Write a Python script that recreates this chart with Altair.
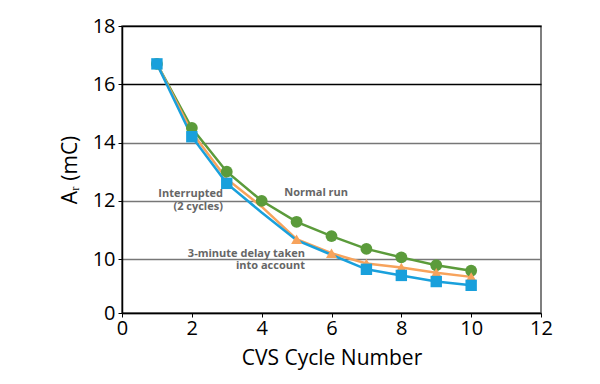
import altair as alt
import pandas as pd

cycles = [1, 2, 3, 4, 5, 6, 7, 8, 9, 10]
normal_run = [16.7, 14.5, 13.0, 12.0, 11.28, 10.79, 10.35, 10.06, 9.79, 9.6]
delay_run = [16.7, 14.35, 12.75, 11.8, 10.68, 10.2, 9.85, 9.71, 9.53, 9.39]
interrupted_run = [16.7, 14.2, 12.6, 11.6, 10.65, 10.15, 9.65, 9.44, 9.23, 9.1]
normal_marker = [1, 1, 1, 1, 1, 1, 1, 1, 1, 1]
delay_marker = [0, 0, 0, 0, 1, 1, 1, 1, 1, 1]
interrupted_marker = [1, 1, 1, 0, 0, 0, 1, 1, 1, 1]

series_names = ["Normal run", "3-minute delay", "Interrupted"]
series_colors = ["#5b9b3b", "#f7a35c", "#19a0dc"]

ann_text = ["Interrupted", "(2 cycles)", "Normal run", "3-minute delay taken", "into account"]
ann_x = [2.89, 2.89, 5.56, 5.24, 5.24]
ann_y = [12.22, 11.78, 12.26, 10.17, 9.77]
ann_align = ["right", "right", "center", "right", "right"]

y_ticks = [8.15, 10, 12, 14, 16, 18]

rows = []
for name, vals, marks in zip(series_names,
                             [normal_run, delay_run, interrupted_run],
                             [normal_marker, delay_marker, interrupted_marker]):
    for c, v, m in zip(cycles, vals, marks):
        rows.append({"series": name, "cycle": c, "value": v, "marker": m})
df = pd.DataFrame(rows)
ann = pd.DataFrame({"text": ann_text, "x": ann_x, "y": ann_y, "align": ann_align})

FONT = "Open Sans"

xscale = alt.Scale(domain=[0, 12], nice=False)
yscale = alt.Scale(domain=[8.15, 18], nice=False, zero=False)

xaxis = alt.Axis(values=[0, 2, 4, 6, 8, 10, 12], title="CVS Cycle Number", grid=False,
                 labelFontSize=20, titleFontSize=21, labelFont=FONT, titleFont=FONT,
                 titleFontWeight="normal", labelColor="black", titleColor="black",
                 domainColor="black", domainWidth=1.5, tickColor="black", tickSize=4,
                 labelPadding=1, titlePadding=9, labelFlush=False)
yaxis = alt.Axis(values=y_ticks, title="Aᵣ (mC)",
                 labelExpr="datum.value < 9 ? '0' : format(datum.value, 'd')",
                 labelFontSize=20, titleFontSize=21, labelFont=FONT, titleFont=FONT,
                 titleFontWeight="normal", labelColor="black", titleColor="black",
                 domainColor="black", domainWidth=1.5, tickColor="black", tickSize=4,
                 labelPadding=3, titlePadding=12, labelFlush=False,
                 gridColor={"condition": {"test": "datum.value >= 15", "value": "#000000"},
                            "value": "#777777"},
                 gridWidth=1.3)

color = alt.Color("series:N", scale=alt.Scale(domain=series_names, range=series_colors), legend=None)

base = alt.Chart(df)

lines = base.mark_line(strokeWidth=2.5).encode(
    x=alt.X("cycle:Q", scale=xscale, axis=xaxis),
    y=alt.Y("value:Q", scale=yscale, axis=yaxis),
    color=color,
    order=alt.Order("cycle:Q"),
)

def pts(name, shape, size):
    return alt.Chart(df).transform_filter(
        (alt.datum.series == name) & (alt.datum.marker == 1)
    ).mark_point(shape=shape, filled=True, size=size, opacity=1).encode(
        x=alt.X("cycle:Q", scale=xscale),
        y=alt.Y("value:Q", scale=yscale),
        color=color,
    )

p_green = pts("Normal run", "circle", 140)
p_orange = pts("3-minute delay", "triangle-up", 120)
p_blue = pts("Interrupted", "square", 130)

def ann_layer(align):
    return alt.Chart(ann).transform_filter(alt.datum.align == align).mark_text(
        font=FONT, fontSize=11, fontWeight="bold", color="#666666", align=align, baseline="middle"
    ).encode(
        x=alt.X("x:Q", scale=xscale),
        y=alt.Y("y:Q", scale=yscale),
        text="text:N",
    )

chart = alt.layer(lines, p_green, p_orange, p_blue, ann_layer("right"), ann_layer("center")).properties(
    width=419, height=287,
    autosize=alt.AutoSizeParams(type="none"),
    padding={"left": 114, "top": 18, "right": 51, "bottom": 63},
).configure_view(stroke="#555555", strokeWidth=1.5)

chart.save("out.html", embed_options={"renderer": "svg", "actions": False})
